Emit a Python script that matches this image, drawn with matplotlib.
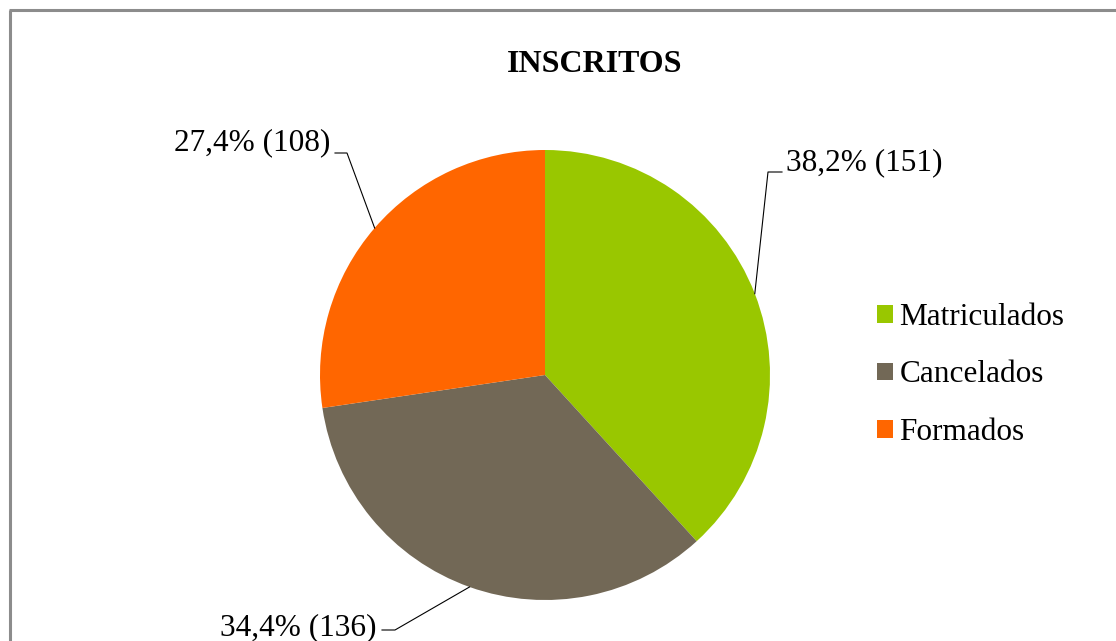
import numpy as np
import matplotlib
matplotlib.use("Agg")
import matplotlib.pyplot as plt

# Data
categorias = ["Matriculados", "Cancelados", "Formados"]
valores = [151, 136, 108]
porcentagens = [38.2, 34.4, 27.4]
cores = ["#99C700", "#726856", "#FF6600"]

W, H = 1116, 641
plt.rcParams['font.family'] = ['Liberation Serif', 'DejaVu Serif']

fig = plt.figure(figsize=(W / 100, H / 100), dpi=100)
ax = fig.add_axes([0, 0, 1, 1])


def Y(y):
    # pixel row (from top) -> data y
    return H - y


cx, cy, r = 545, Y(375), 225
wedges, _ = ax.pie(valores, colors=cores, startangle=90, counterclock=False,
                   center=(cx, cy), radius=r,
                   wedgeprops=dict(linewidth=0))

ax.set_xlim(0, W)
ax.set_ylim(0, H)
ax.set_aspect('auto')
ax.axis('off')

# outer frame of the chart area (right and bottom are cut off)
ax.plot([10, 10], [Y(641), Y(10)], color="#8C8C8C", lw=2.2, solid_capstyle='butt')
ax.plot([9, W], [Y(10), Y(10)], color="#8C8C8C", lw=2.2, solid_capstyle='butt')

ax.text(595, Y(72), "INSCRITOS", fontsize=23, fontweight='bold',
        ha='center', va='baseline')

# data labels with leader lines: (elbow, line end, text pos, align)
rotulos = [
    ((768, 172), (782, 172), (786, 170), 'left'),
    ((395, 630), (382, 630), (377, 635), 'right'),
    ((347, 153), (335, 153), (330, 150), 'right'),
]
for w, v, p, (cot, fim, pos, ha) in zip(wedges, valores, porcentagens, rotulos):
    meio = np.deg2rad((w.theta1 + w.theta2) / 2)
    px = cx + r * np.cos(meio)
    py = cy + r * np.sin(meio)
    ax.plot([px, cot[0], fim[0]], [py, Y(cot[1]), Y(fim[1])],
            color="black", lw=0.8)
    txt = f"{p:.1f}".replace(".", ",") + f"% ({v})"
    ax.text(pos[0], Y(pos[1]), txt, fontsize=22.5, ha=ha, va='baseline')

ax.legend(wedges, categorias, loc='center left',
          bbox_to_anchor=(877, Y(375)), bbox_transform=ax.transData,
          frameon=False, fontsize=22.5, handlelength=0.5, handleheight=0.5,
          handletextpad=0.22, labelspacing=0.92, borderpad=0, borderaxespad=0)

fig.savefig("out.png", dpi=100)
